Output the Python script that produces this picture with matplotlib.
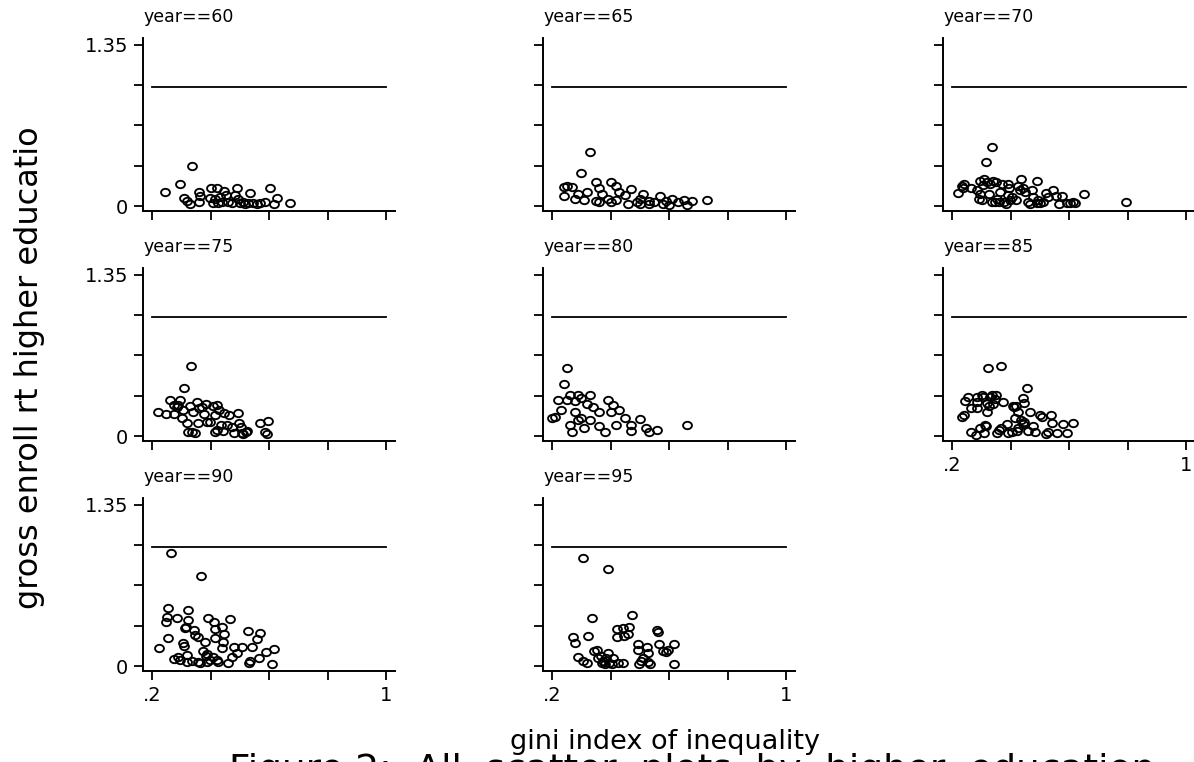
import matplotlib
matplotlib.use("Agg")
import matplotlib.pyplot as plt
from matplotlib.path import Path
from matplotlib.transforms import Affine2D

# gini index (x) and gross enrolment in higher education (y), per panel year
yr60_gini = [0.244, 0.296, 0.337, 0.309, 0.321, 0.330, 0.360, 0.364, 0.362, 0.402,
             0.421, 0.398, 0.415, 0.410, 0.427, 0.446, 0.453, 0.461, 0.438, 0.489,
             0.484, 0.495, 0.501, 0.512, 0.472, 0.535, 0.529, 0.546, 0.558, 0.518,
             0.586, 0.603, 0.628, 0.617, 0.672, 0.432, 0.569]
yr60_enrol = [0.115, 0.182, 0.333, 0.070, 0.042, 0.017, 0.115, 0.084, 0.034, 0.148,
              0.148, 0.070, 0.056, 0.028, 0.028, 0.129, 0.092, 0.036, 0.036, 0.148,
              0.092, 0.056, 0.022, 0.036, 0.028, 0.112, 0.028, 0.022, 0.017, 0.017,
              0.036, 0.148, 0.064, 0.017, 0.022, 0.078, 0.028]

yr65_gini = [0.24, 0.25, 0.27, 0.30, 0.33, 0.32, 0.35, 0.36, 0.37, 0.40, 0.42, 0.43,
             0.45, 0.47, 0.50, 0.51, 0.53, 0.55, 0.57, 0.59, 0.61, 0.63, 0.65, 0.24,
             0.28, 0.31, 0.35, 0.39, 0.42, 0.46, 0.49, 0.53, 0.58, 0.60, 0.68, 0.73,
             0.36, 0.40, 0.50, 0.66, 0.29]
yr65_enrol = [0.16, 0.17, 0.16, 0.28, 0.45, 0.12, 0.20, 0.15, 0.10, 0.20, 0.17, 0.12,
              0.09, 0.14, 0.06, 0.10, 0.04, 0.03, 0.08, 0.04, 0.06, 0.03, 0.05, 0.08,
              0.06, 0.05, 0.04, 0.06, 0.05, 0.02, 0.03, 0.02, 0.02, 0.01, 0.04, 0.05,
              0.03, 0.03, 0.02, 0.01, 0.10]

yr70_gini = [0.222, 0.233, 0.242, 0.239, 0.264, 0.287, 0.296, 0.292, 0.301, 0.296,
             0.309, 0.316, 0.336, 0.321, 0.330, 0.339, 0.350, 0.328, 0.336, 0.347,
             0.353, 0.364, 0.370, 0.378, 0.385, 0.393, 0.396, 0.393, 0.398, 0.404,
             0.419, 0.432, 0.435, 0.442, 0.450, 0.459, 0.467, 0.472, 0.478, 0.489,
             0.489, 0.501, 0.512, 0.520, 0.529, 0.546, 0.556, 0.567, 0.575, 0.592,
             0.603, 0.615, 0.621, 0.652, 0.794, 0.307, 0.427, 0.362, 0.495]
yr70_enrol = [0.112, 0.168, 0.184, 0.148, 0.154, 0.134, 0.098, 0.056, 0.050, 0.212,
              0.224, 0.366, 0.497, 0.204, 0.184, 0.212, 0.204, 0.098, 0.036, 0.036,
              0.056, 0.115, 0.182, 0.036, 0.017, 0.092, 0.148, 0.182, 0.050, 0.078,
              0.050, 0.134, 0.224, 0.148, 0.120, 0.036, 0.017, 0.134, 0.078, 0.212,
              0.022, 0.022, 0.036, 0.112, 0.078, 0.134, 0.084, 0.017, 0.084, 0.022,
              0.028, 0.036, 0.022, 0.098, 0.031, 0.176, 0.168, 0.031, 0.050]

yr75_gini = [0.222, 0.248, 0.262, 0.275, 0.275, 0.290, 0.296, 0.301, 0.307, 0.309,
             0.321, 0.324, 0.333, 0.330, 0.336, 0.347, 0.341, 0.353, 0.358, 0.361,
             0.370, 0.378, 0.385, 0.387, 0.398, 0.410, 0.415, 0.421, 0.423, 0.415,
             0.430, 0.435, 0.442, 0.446, 0.455, 0.463, 0.472, 0.480, 0.495, 0.499,
             0.503, 0.507, 0.512, 0.521, 0.524, 0.569, 0.598, 0.586, 0.592, 0.284]
yr75_enrol = [0.198, 0.182, 0.302, 0.182, 0.260, 0.260, 0.302, 0.148, 0.218, 0.405,
              0.106, 0.036, 0.587, 0.252, 0.036, 0.022, 0.198, 0.288, 0.106, 0.232,
              0.240, 0.184, 0.268, 0.120, 0.120, 0.252, 0.176, 0.260, 0.050, 0.036,
              0.218, 0.092, 0.045, 0.196, 0.092, 0.176, 0.078, 0.022, 0.190, 0.112,
              0.078, 0.022, 0.017, 0.036, 0.045, 0.112, 0.126, 0.036, 0.017, 0.246]

yr80_gini = [0.20, 0.23, 0.25, 0.26, 0.28, 0.29, 0.30, 0.32, 0.33, 0.34, 0.25, 0.24,
             0.26, 0.27, 0.29, 0.31, 0.33, 0.36, 0.38, 0.40, 0.41, 0.43, 0.42, 0.45,
             0.47, 0.50, 0.52, 0.53, 0.56, 0.39, 0.36, 0.21, 0.22, 0.66, 0.47, 0.28,
             0.30]
yr80_enrol = [0.15, 0.22, 0.30, 0.34, 0.29, 0.34, 0.32, 0.27, 0.34, 0.24, 0.57, 0.44,
              0.09, 0.03, 0.13, 0.07, 0.13, 0.08, 0.03, 0.20, 0.26, 0.22, 0.09, 0.15,
              0.09, 0.14, 0.07, 0.03, 0.05, 0.30, 0.20, 0.16, 0.30, 0.09, 0.04, 0.20,
              0.15]

yr85_gini = [0.233, 0.241, 0.244, 0.256, 0.264, 0.264, 0.282, 0.284, 0.287, 0.287,
             0.296, 0.301, 0.307, 0.309, 0.313, 0.316, 0.319, 0.321, 0.324, 0.328,
             0.330, 0.336, 0.339, 0.347, 0.350, 0.355, 0.362, 0.366, 0.366, 0.373,
             0.387, 0.393, 0.404, 0.407, 0.412, 0.415, 0.419, 0.423, 0.427, 0.427,
             0.435, 0.442, 0.446, 0.442, 0.446, 0.455, 0.461, 0.467, 0.476, 0.484,
             0.501, 0.507, 0.521, 0.529, 0.537, 0.541, 0.558, 0.578, 0.594, 0.615]
yr85_enrol = [0.162, 0.176, 0.296, 0.330, 0.232, 0.036, 0.008, 0.232, 0.282, 0.330,
              0.064, 0.344, 0.324, 0.028, 0.092, 0.084, 0.198, 0.274, 0.567, 0.252,
              0.324, 0.344, 0.268, 0.307, 0.344, 0.028, 0.050, 0.587, 0.064, 0.288,
              0.101, 0.022, 0.036, 0.252, 0.246, 0.148, 0.252, 0.045, 0.204, 0.064,
              0.134, 0.316, 0.274, 0.101, 0.120, 0.400, 0.045, 0.204, 0.084, 0.036,
              0.176, 0.162, 0.017, 0.036, 0.176, 0.106, 0.028, 0.101, 0.022, 0.112]

yr90_gini = [0.224, 0.248, 0.250, 0.254, 0.256, 0.264, 0.275, 0.284, 0.290, 0.296,
             0.307, 0.309, 0.313, 0.316, 0.321, 0.321, 0.324, 0.324, 0.336, 0.345,
             0.347, 0.358, 0.358, 0.364, 0.368, 0.376, 0.381, 0.385, 0.387, 0.389,
             0.393, 0.398, 0.410, 0.412, 0.415, 0.415, 0.421, 0.427, 0.438, 0.438,
             0.442, 0.446, 0.461, 0.467, 0.472, 0.480, 0.492, 0.507, 0.529, 0.533,
             0.535, 0.541, 0.558, 0.567, 0.569, 0.590, 0.609, 0.617]
yr90_enrol = [0.148, 0.372, 0.408, 0.489, 0.232, 0.945, 0.056, 0.400, 0.073, 0.050,
              0.190, 0.168, 0.321, 0.330, 0.092, 0.036, 0.470, 0.386, 0.045, 0.302,
              0.260, 0.246, 0.036, 0.028, 0.755, 0.129, 0.198, 0.084, 0.036, 0.101,
              0.400, 0.050, 0.078, 0.372, 0.307, 0.232, 0.050, 0.036, 0.324, 0.148,
              0.204, 0.268, 0.028, 0.391, 0.078, 0.162, 0.106, 0.157, 0.296, 0.028,
              0.045, 0.157, 0.224, 0.064, 0.280, 0.120, 0.014, 0.140]

yr95_gini = [0.271, 0.279, 0.290, 0.305, 0.307, 0.319, 0.324, 0.338, 0.344, 0.355,
             0.358, 0.366, 0.370, 0.376, 0.381, 0.385, 0.390, 0.393, 0.396, 0.404,
             0.410, 0.421, 0.421, 0.427, 0.442, 0.444, 0.446, 0.461, 0.464, 0.475,
             0.495, 0.495, 0.499, 0.503, 0.512, 0.524, 0.529, 0.529, 0.535, 0.558,
             0.564, 0.567, 0.581, 0.590, 0.598, 0.617, 0.617]
yr95_enrol = [0.246, 0.196, 0.073, 0.045, 0.903, 0.028, 0.254, 0.400, 0.129, 0.134,
              0.064, 0.084, 0.028, 0.045, 0.017, 0.064, 0.811, 0.112, 0.028, 0.017,
              0.064, 0.310, 0.240, 0.028, 0.028, 0.316, 0.252, 0.268, 0.330, 0.428,
              0.184, 0.134, 0.017, 0.045, 0.064, 0.157, 0.112, 0.036, 0.017, 0.302,
              0.288, 0.184, 0.129, 0.120, 0.134, 0.182, 0.014]

years = [60, 65, 70, 75, 80, 85, 90, 95]
panels = [(yr60_gini, yr60_enrol), (yr65_gini, yr65_enrol), (yr70_gini, yr70_enrol),
          (yr75_gini, yr75_enrol), (yr80_gini, yr80_enrol), (yr85_gini, yr85_enrol),
          (yr90_gini, yr90_enrol), (yr95_gini, yr95_enrol)]

x_ticks = [0.2, 0.4, 0.6, 0.8, 1.0]
x_ticklabels = [".2", "", "", "", "1"]
y_ticks = [0, 0.3375, 0.675, 1.0125, 1.35]
y_ticklabels = ["0", "", "", "", "1.35"]
ref_level = 1.0

plt.rcParams["font.family"] = ["DejaVu Sans"]

W, H = 1194, 762
fig = plt.figure(figsize=(W / 100, H / 100), dpi=100)

# hollow, slightly wide ellipse like Stata's "O" symbol
ellipse = Path.unit_circle().transformed(Affine2D().scale(1.2, 1.0))

for k, (yr, (gx, gy)) in enumerate(zip(years, panels)):
    r, c = divmod(k, 3)
    left = (143 + 400 * c) / W
    bottom = 1 - (211 + 230 * r) / H
    ax = fig.add_axes([left, bottom, 252 / W, 173 / H])
    ax.plot(gx, gy, ls="none", marker=ellipse, mfc="none", mec="black",
            ms=6.4, mew=1.35)
    ax.plot([x_ticks[0], x_ticks[-1]], [ref_level, ref_level],
            color="black", lw=1.3)
    ax.set_xlim(0.2 - 9 / 292.5, 1.0 + 9 / 292.5)
    ax.set_ylim(-5 / 119.26, 1.35 + 7 / 119.26)
    for s in ("top", "right"):
        ax.spines[s].set_visible(False)
    for s in ("left", "bottom"):
        ax.spines[s].set_linewidth(1.4)
    ax.tick_params(direction="out", length=6.5, width=1.3, labelsize=14,
                   pad=4)
    ax.set_xticks(x_ticks)
    ax.set_yticks(y_ticks)
    bottom_of_col = (k + 3 >= len(years))
    ax.set_xticklabels(x_ticklabels if bottom_of_col else [""] * 5)
    ax.set_yticklabels(y_ticklabels if c == 0 else [""] * 5)
    ax.annotate(f"year=={yr}", xy=(0, 1), xycoords="axes fraction",
                xytext=(0, 15), textcoords="offset points",
                ha="left", va="center", fontsize=12.5)

fig.text(30 / W, 1 - 368 / H, "gross enroll rt higher educatio",
         rotation=90, ha="center", va="center", fontsize=23)
fig.text(665 / W, 1 - 742 / H, "gini index of inequality",
         ha="center", va="center", fontsize=19.5)
fig.text(692 / W, 1 - 781 / H,
         "Figure 2:  All  scatter  plots  by  higher  education",
         ha="center", va="baseline", fontsize=27)

fig.savefig("out.png", dpi=100)
